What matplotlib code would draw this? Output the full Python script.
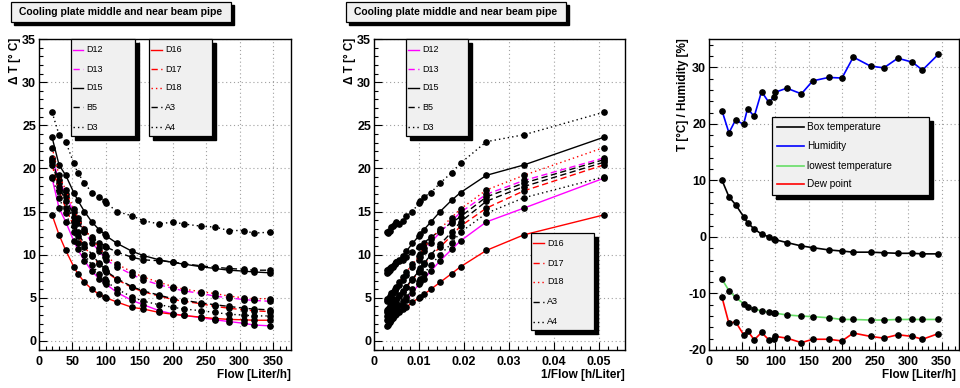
import matplotlib
matplotlib.use("Agg")
import matplotlib.pyplot as plt
from matplotlib.lines import Line2D
from matplotlib.patches import Rectangle
from matplotlib.ticker import MultipleLocator, FuncFormatter

plt.rcParams["font.family"] = ["Liberation Sans", "DejaVu Sans"]
plt.rcParams["axes.unicode_minus"] = False

# flow points [Liter/h]
flow = [19.6, 30, 40, 52, 58, 68, 79, 90, 98, 100, 117, 139, 156, 180, 200,
        217, 243, 263, 284, 306, 321, 345]

# delta T [deg C] per sensor
d12 = [18.85, 15.4, 13.8, 11.6, 10.6, 9.3, 8.1, 7.2, 6.8, 6.6, 5.6, 4.7, 4.2,
       3.5, 3.15, 2.95, 2.7, 2.45, 2.25, 2.05, 1.85, 1.75]
d13 = [21.2, 18.6, 17.0, 14.9, 13.9, 12.6, 11.4, 10.4, 9.7, 9.4, 8.6, 7.7, 7.1,
       6.5, 6.1, 5.8, 5.5, 5.2, 5.0, 4.8, 4.7, 4.6]
d15 = [23.6, 20.4, 19.2, 17.2, 16.3, 15.0, 13.8, 12.9, 12.4, 12.2, 11.3, 10.4,
       9.9, 9.4, 9.1, 8.9, 8.6, 8.4, 8.2, 8.1, 8.0, 7.9]
b5 = [21.0, 18.3, 16.7, 14.4, 13.7, 12.8, 12.0, 11.4, 11.0, 10.9, 10.3, 9.7,
      9.4, 9.3, 9.15, 8.95, 8.7, 8.55, 8.4, 8.3, 8.2, 8.2]
d3 = [26.5, 23.9, 23.1, 20.6, 19.5, 18.3, 17.2, 16.7, 16.2, 16.0, 15.0, 14.5,
      13.95, 13.55, 13.8, 13.55, 13.3, 13.2, 12.8, 12.8, 12.5, 12.6]
d16 = [14.6, 12.3, 10.5, 8.6, 7.8, 6.8, 6.0, 5.4, 5.1, 5.0, 4.5, 3.9, 3.7,
       3.3, 3.1, 2.95, 2.75, 2.6, 2.5, 2.45, 2.4, 2.4]
d17 = [20.4, 17.4, 15.4, 13.3, 12.2, 10.9, 9.8, 8.9, 8.2, 8.0, 7.1, 6.2, 5.7,
       5.2, 4.8, 4.6, 4.3, 4.0, 3.8, 3.6, 3.5, 3.4]
d18 = [22.4, 19.2, 17.5, 15.3, 14.3, 13.0, 11.8, 10.8, 10.1, 9.8, 8.9, 8.0,
       7.4, 6.8, 6.3, 6.0, 5.7, 5.5, 5.2, 5.0, 4.9, 4.9]
a3 = [20.7, 17.9, 16.2, 13.8, 12.6, 11.2, 10.0, 9.0, 8.4, 8.1, 7.2, 6.3, 5.8,
      5.3, 4.9, 4.7, 4.4, 4.2, 4.0, 3.8, 3.7, 3.6]
a4 = [19.0, 16.6, 14.8, 12.6, 11.3, 10.0, 8.8, 7.8, 7.2, 6.9, 6.0, 5.1, 4.6,
      4.2, 3.9, 3.7, 3.5, 3.3, 3.1, 3.0, 2.9, 2.9]

# box conditions
box_temp = [10.0, 7.1, 5.7, 3.6, 2.5, 1.4, 0.5, 0.0, -0.3, -0.5, -1.0, -1.6,
            -1.9, -2.3, -2.5, -2.7, -2.7, -2.8, -2.9, -2.9, -3.0, -3.0]
humidity = [22.3, 18.4, 20.7, 19.9, 22.7, 21.3, 25.7, 23.8, 24.8, 25.6, 26.3,
            25.3, 27.6, 28.2, 28.1, 31.8, 30.2, 29.9, 31.6, 30.9, 29.5, 32.3]
lowest_temp = [-7.5, -9.5, -10.7, -11.8, -12.4, -12.7, -13.1, -13.3, -13.4,
               -13.5, -13.8, -14.0, -14.1, -14.3, -14.6, -14.6, -14.7, -14.7,
               -14.6, -14.6, -14.6, -14.6]
dew_point = [-10.7, -15.3, -15.0, -17.3, -16.6, -18.2, -16.9, -18.2, -18.1,
             -17.6, -17.9, -18.7, -18.1, -18.1, -18.4, -17.0, -17.6, -17.9,
             -17.3, -17.6, -18.1, -17.1]

group1 = ["D12", "D13", "D15", "B5", "D3"]
group2 = ["D16", "D17", "D18", "A3", "A4"]
sensors = {"D12": d12, "D13": d13, "D15": d15, "B5": b5, "D3": d3,
           "D16": d16, "D17": d17, "D18": d18, "A3": a3, "A4": a4}

DASH = (0, (4.5, 2.5))
DOT = (0, (1, 2.2))
MAGENTA, RED = "#ff00ff", "#ff0000"
style = {"D12": (MAGENTA, "-"), "D13": (MAGENTA, DASH), "D15": ("k", "-"),
         "B5": ("k", DASH), "D3": ("k", DOT), "D16": (RED, "-"),
         "D17": (RED, DASH), "D18": (RED, DOT), "A3": ("k", DASH),
         "A4": ("k", DOT)}

env = [("Box temperature", box_temp, "k"), ("Humidity", humidity, "#0000ff"),
       ("lowest temperature", lowest_temp, "#66dd66"),
       ("Dew point", dew_point, "#ff0000")]

W, H = 960, 388
fig = plt.figure(figsize=(W / 100, H / 100), dpi=100)


def fx(x):
    return x / W


def fy(y):
    return 1 - y / H


def add_axes(x0, x1, y0, y1):
    ax = fig.add_axes([fx(x0), fy(y1), fx(x1) - fx(x0), fy(y0) - fy(y1)])
    ax.grid(True, which="major", color="#a0a0a0", linestyle=(0, (1, 2.5)),
            linewidth=0.8)
    ax.tick_params(which="both", direction="in", top=False, right=False,
                   labelsize=9)
    ax.tick_params(which="major", length=5.5, width=0.8)
    ax.tick_params(which="minor", length=2.8, width=0.8)
    ax.tick_params(axis="x", pad=4)
    ax.tick_params(axis="y", pad=2)
    for lab in ax.get_xticklabels() + ax.get_yticklabels():
        lab.set_fontweight("bold")
    for s in ax.spines.values():
        s.set_linewidth(1.0)
    return ax


def shadow_box(x0, y0, x1, y1, off=4, fill="#f0f0f0"):
    fig.add_artist(Rectangle((fx(x0 + off), fy(y1 + off)),
                             fx(x1 - x0), fy(y0) - fy(y1),
                             transform=fig.transFigure, facecolor="k",
                             edgecolor="k", zorder=10))
    fig.add_artist(Rectangle((fx(x0), fy(y1)), fx(x1 - x0), fy(y0) - fy(y1),
                             transform=fig.transFigure, facecolor=fill,
                             edgecolor="k", linewidth=0.9, zorder=11))


def legend_entry(x0, x1, y, label, color, ls, size=6.5, lw=1.0):
    fig.add_artist(Line2D([fx(x0), fx(x1)], [fy(y), fy(y)],
                          transform=fig.transFigure, color=color,
                          linestyle=ls, linewidth=lw, zorder=12))
    fig.text(fx(x1 + 3), fy(y), label, fontsize=size, va="center",
             ha="left", zorder=12)


def title_box(x0, x1):
    shadow_box(x0, 2, x1, 22, off=3)
    fig.text(fx((x0 + x1) / 2), fy(12), "Cooling plate middle and near beam pipe",
             fontsize=7.5, fontweight="bold", ha="center", va="center",
             zorder=12)


def label_axes(ax, xlabel, ylabel, lx, ly_x):
    fig.text(fx(lx), fy(381), xlabel, fontsize=8.5, fontweight="bold",
             ha="right", va="bottom")
    fig.text(fx(ly_x), fy(38), ylabel, fontsize=8.5, fontweight="bold",
             rotation=90, ha="center", va="top")


MS = 3.8

# ---- panel 1: delta T vs flow
ax1 = add_axes(39, 291, 39, 350)
for name in group1 + group2:
    color, ls = style[name]
    ax1.plot(flow, sensors[name], color=color, linestyle=ls, linewidth=1.0,
             marker="o", markersize=MS, markerfacecolor="k",
             markeredgecolor="k")
ax1.set_xlim(0, 377)
ax1.set_ylim(-1.05, 35)
ax1.xaxis.set_major_locator(MultipleLocator(50))
ax1.xaxis.set_minor_locator(MultipleLocator(10))
ax1.yaxis.set_major_locator(MultipleLocator(5))
ax1.yaxis.set_minor_locator(MultipleLocator(1))
for lab in ax1.get_xticklabels() + ax1.get_yticklabels():
    lab.set_fontweight("bold")
label_axes(ax1, "Flow [Liter/h]", "\u0394 T [\u00b0 C]", 291, 15)
title_box(11, 231)

rows = [50, 69, 88, 107, 127]
shadow_box(71, 39, 135, 136)
for name, y in zip(group1, rows):
    legend_entry(73, 83, y, name, *style[name])
shadow_box(149, 39, 212, 136)
for name, y in zip(group2, rows):
    legend_entry(151, 162, y, name, *style[name])

# ---- panel 2: delta T vs 1/flow
inv_flow = [1.0 / f for f in flow]
ax2 = add_axes(374, 625, 39, 350)
for name in group1 + group2:
    color, ls = style[name]
    ax2.plot(inv_flow, sensors[name], color=color, linestyle=ls, linewidth=1.0,
             marker="o", markersize=MS, markerfacecolor="k",
             markeredgecolor="k")
ax2.set_xlim(0, 0.0558)
ax2.set_ylim(-1.05, 35)
ax2.xaxis.set_major_locator(MultipleLocator(0.01))
ax2.xaxis.set_minor_locator(MultipleLocator(0.002))
ax2.xaxis.set_major_formatter(FuncFormatter(lambda v, p: "%g" % round(v, 4)))
ax2.yaxis.set_major_locator(MultipleLocator(5))
ax2.yaxis.set_minor_locator(MultipleLocator(1))
for lab in ax2.get_xticklabels() + ax2.get_yticklabels():
    lab.set_fontweight("bold")
label_axes(ax2, "1/Flow [h/Liter]", "\u0394 T [\u00b0 C]", 625, 350)
title_box(346, 566)

shadow_box(406, 39, 468, 136)
for name, y in zip(group1, rows):
    legend_entry(408, 419, y, name, *style[name])
shadow_box(531, 233, 594, 330)
for name, y in zip(group2, [243, 263, 282, 302, 322]):
    legend_entry(533, 544, y, name, *style[name])

# ---- panel 3: box conditions vs flow
ax3 = add_axes(709, 959, 39, 350)
for label, vals, color in env:
    ax3.plot(flow, vals, color=color, linewidth=1.2, marker="o",
             markersize=MS, markerfacecolor="k", markeredgecolor="k")
ax3.set_xlim(0, 376)
ax3.set_ylim(-20, 35)
ax3.xaxis.set_major_locator(MultipleLocator(50))
ax3.xaxis.set_minor_locator(MultipleLocator(10))
ax3.yaxis.set_major_locator(MultipleLocator(10))
ax3.yaxis.set_minor_locator(MultipleLocator(2))
for lab in ax3.get_xticklabels() + ax3.get_yticklabels():
    lab.set_fontweight("bold")
label_axes(ax3, "Flow [Liter/h]", "T [\u00b0C] / Humidity [%]", 956, 683)

shadow_box(772, 117, 929, 195)
for (label, vals, color), y in zip(env, [127, 146, 166, 184]):
    legend_entry(777, 804, y, label, color, "-", size=7.2, lw=1.2)

fig.savefig("out.png", dpi=100)
